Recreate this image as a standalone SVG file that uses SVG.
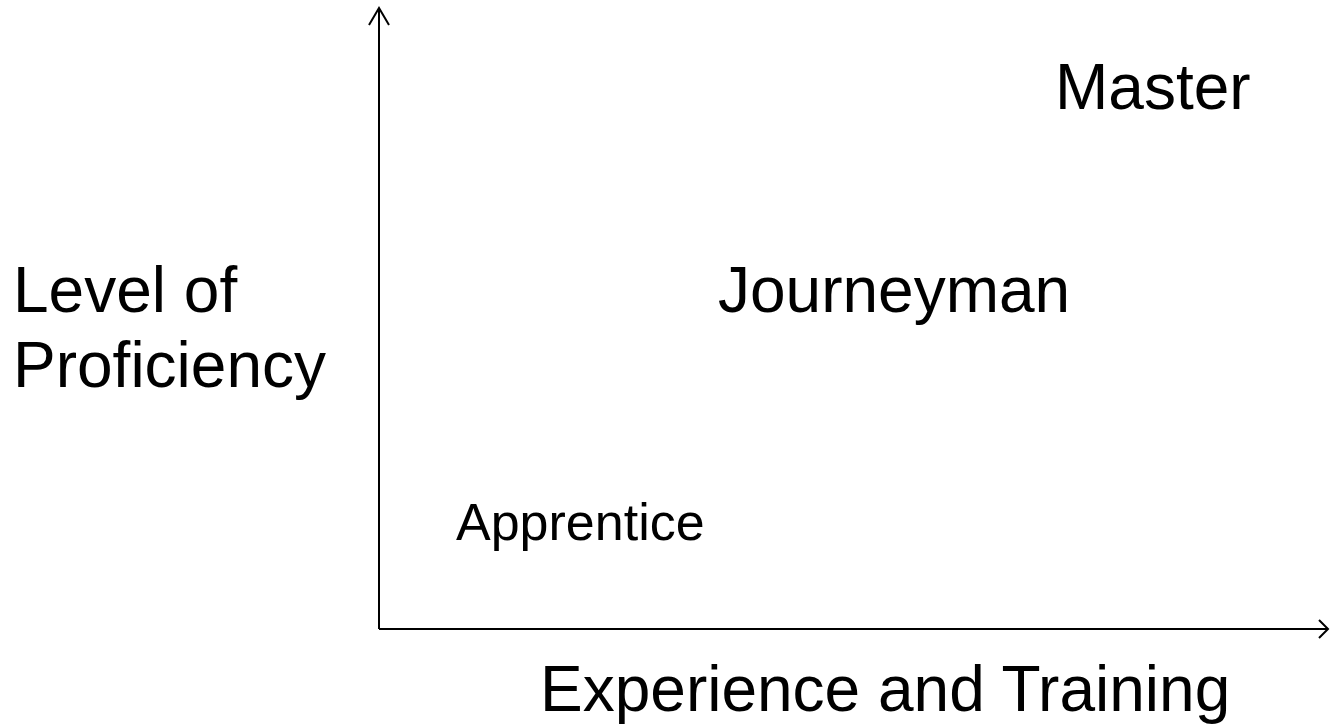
<svg xmlns="http://www.w3.org/2000/svg" width="1330" height="724" viewBox="0 0 1330 724">
<style>
text{font-family:"Liberation Sans",Arial,sans-serif;fill:#000}
.big{font-size:64px}
.ax{stroke:#000;stroke-width:2;fill:none}
</style>
<rect width="1330" height="724" fill="#fff"/>
<g id="axes">
<path class="ax" d="M379,629 V8"/>
<path class="ax" d="M369,25 L379,8 L389,25"/>
<path class="ax" d="M379,629 H1328"/>
<path class="ax" d="M1319,620 L1328,629 L1319,638"/>
</g>
<g id="y-label"><text class="big" x="13" y="312">Level of</text><text class="big" x="13" y="387">Proficiency</text></g>
<g id="x-label"><text class="big" x="540" y="711">Experience and Training</text></g>
<g id="apprentice"><text x="456" y="540" font-size="52">Apprentice</text></g>
<g id="journeyman"><text class="big" x="718" y="312">Journeyman</text></g>
<g id="master"><text class="big" x="1055" y="109">Master</text></g>
</svg>
